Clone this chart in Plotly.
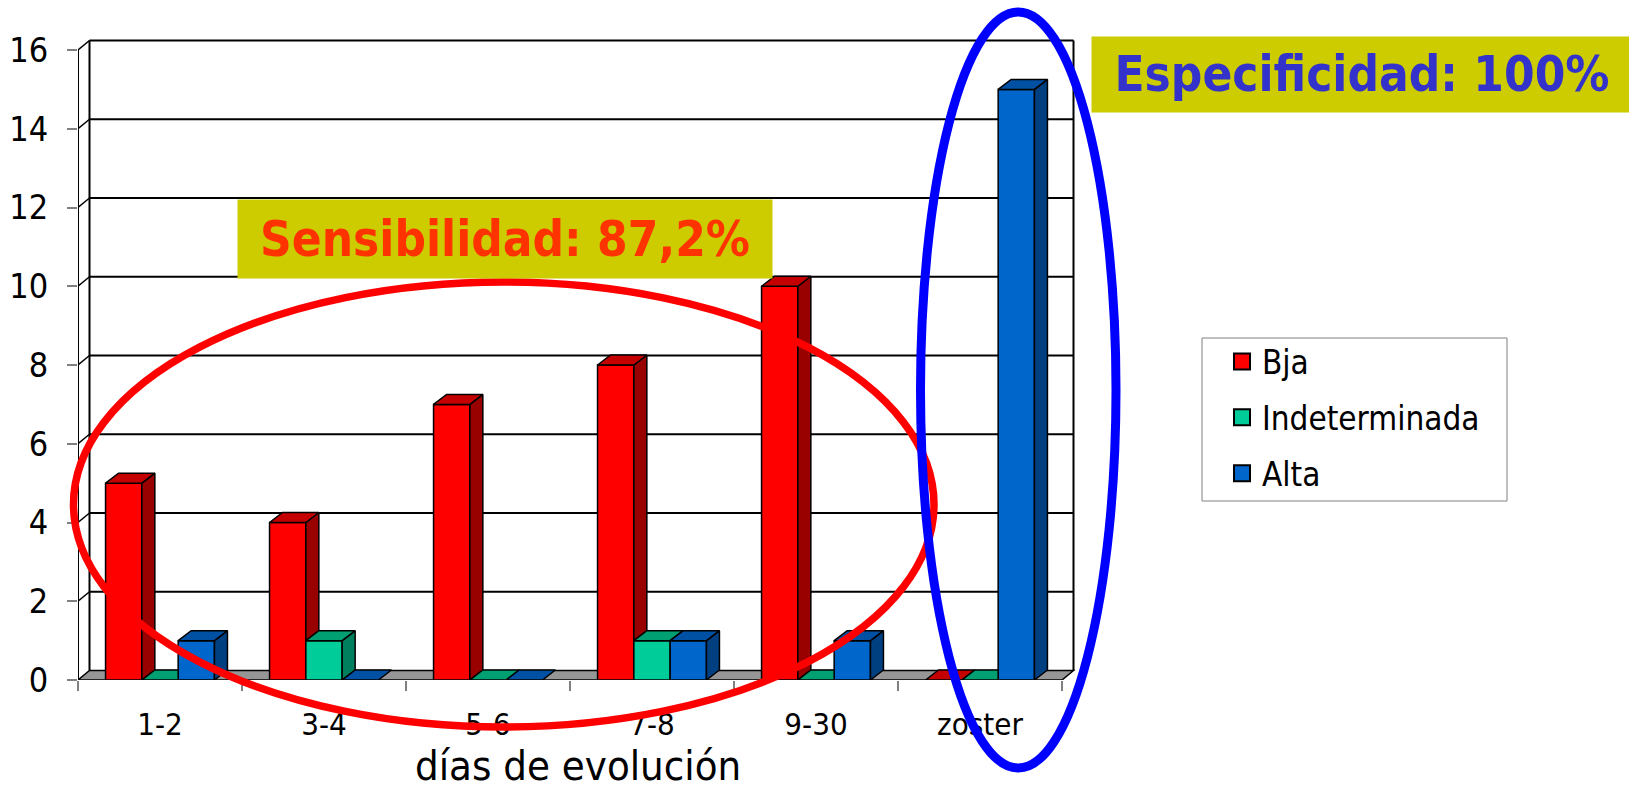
import plotly.graph_objects as go

# ---- data -------------------------------------------------------------
categories = ["1-2", "3-4", "5-6", "7-8", "9-30", "zoster"]
bja = [5, 4, 7, 8, 10, 0]
indeterminada = [0, 1, 0, 1, 0, 0]
alta = [1, 0, 0, 1, 1, 15]
series_names = ["Bja", "Indeterminada", "Alta"]
y_ticks = [0, 2, 4, 6, 8, 10, 12, 14, 16]

series = [bja, indeterminada, alta]

# ---- styling ----------------------------------------------------------
FRONT = ["#FF0000", "#00CC99", "#0066CC"]
SIDE = ["#990000", "#007F5F", "#003F80"]
TOP = ["#C40000", "#00A072", "#0050A3"]
FONT = "DejaVu Sans Condensed"

W, H = 1629, 791
PX_X = 164.0       # pixels per category
PX_Y = 39.375      # pixels per unit on the value axis
X0_PX = 78.0       # pixel column of the front-left corner
Y0_PX = 680.0      # pixel row of the value 0
X_RANGE = [-0.5, 5.7]
Y_RANGE = [0, 16.6]


def px(x):
    return x / W


def py(y):
    return 1 - y / H


x_dom = [px(X0_PX), px(X0_PX + (X_RANGE[1] - X_RANGE[0]) * PX_X)]
y_dom = [py(Y0_PX), py(Y0_PX - Y_RANGE[1] * PX_Y)]

# depth of the walls and of the bars, in data units
WALL_DX, WALL_DY = 11.5 / PX_X, 9.5 / PX_Y
BAR_DX, BAR_DY = 13.0 / PX_X, 10.0 / PX_Y

BARGAP = 0.336
BW = (1 - BARGAP) / 3
x_pos = list(range(len(categories)))

fig = go.Figure()

# front faces of the bars
for i, vals in enumerate(series):
    fig.add_trace(go.Bar(
        x=x_pos, y=vals, width=BW, offset=-(1 - BARGAP) / 2 + i * BW,
        marker=dict(color=FRONT[i], line=dict(color="black", width=1.5)),
        name=series_names[i], showlegend=False, hoverinfo="skip",
    ))

# side and top faces, trimmed where the neighbouring bar hides them
for i, vals in enumerate(series):
    tx, ty, sx, sy = [], [], [], []
    for c in x_pos:
        v = vals[c]
        left = c - (1 - BARGAP) / 2 + i * BW
        right = left + BW
        nxt = series[i + 1][c] if i < len(series) - 1 else None

        n = v if nxt is None else min(max(nxt, v), v + BAR_DY)
        tx += [left, right, right, right + (v + BAR_DY - n) / BAR_DY * BAR_DX,
               left + BAR_DX, left, None]
        ty += [v, v, n, v + BAR_DY, v + BAR_DY, v, None]

        lo = 0 if nxt is None else max(nxt, 0)
        if lo < v:
            sx += [right, right, right + BAR_DX, right + BAR_DX, right, None]
            sy += [lo, v, v + BAR_DY, lo + BAR_DY, lo, None]

    if sx:
        fig.add_trace(go.Scatter(
            x=sx, y=sy, mode="lines", fill="toself", fillcolor=SIDE[i],
            line=dict(color="black", width=1.5), showlegend=False,
            hoverinfo="skip"))
    fig.add_trace(go.Scatter(
        x=tx, y=ty, mode="lines", fill="toself", fillcolor=TOP[i],
        line=dict(color="black", width=1.5), showlegend=False,
        hoverinfo="skip"))

# legend entries
for i, name in enumerate(series_names):
    fig.add_trace(go.Scatter(
        x=[None], y=[None], mode="markers", name=name, legendgroup=name,
        marker=dict(symbol="square", size=17, color=FRONT[i],
                    line=dict(color="black", width=2)),
    ))

# ---- walls, floor and grid ---------------------------------------------
x_lo, x_hi = -0.5, len(categories) - 0.5
top = y_ticks[-1]
shapes = []
floor_path = (f"M{x_lo},0 L{x_hi},0 L{x_hi + WALL_DX},{WALL_DY} "
              f"L{x_lo + WALL_DX},{WALL_DY} Z")
shapes.append(dict(type="path", path=floor_path, xref="x", yref="y",
                   fillcolor="#969696", line=dict(color="black", width=1.5),
                   layer="below"))
for v in y_ticks[1:]:
    shapes.append(dict(type="line", xref="x", yref="y", layer="below",
                       x0=x_lo + WALL_DX, x1=x_hi + WALL_DX,
                       y0=v + WALL_DY, y1=v + WALL_DY,
                       line=dict(color="black", width=2)))
    shapes.append(dict(type="line", xref="x", yref="y", layer="below",
                       x0=x_lo, x1=x_lo + WALL_DX, y0=v, y1=v + WALL_DY,
                       line=dict(color="black", width=1.5)))
for xv in (x_lo + WALL_DX, x_hi + WALL_DX):
    shapes.append(dict(type="line", xref="x", yref="y", layer="below",
                       x0=xv, x1=xv, y0=WALL_DY, y1=top + WALL_DY,
                       line=dict(color="black", width=2)))
shapes.append(dict(type="line", xref="x", yref="y", layer="below",
                   x0=x_lo, x1=x_lo, y0=0, y1=top,
                   line=dict(color="black", width=2)))

# highlight ellipses
shapes.append(dict(type="circle", xref="paper", yref="paper",
                   x0=px(73.5), x1=px(934), y0=py(727), y1=py(282),
                   line=dict(color="#FF0000", width=7.5)))
shapes.append(dict(type="circle", xref="paper", yref="paper",
                   x0=px(920.5), x1=px(1116), y0=py(768), y1=py(12),
                   line=dict(color="#0000FF", width=9)))

# legend frame
shapes.append(dict(type="rect", xref="paper", yref="paper",
                   x0=px(1202), x1=px(1507), y0=py(501), y1=py(338),
                   line=dict(color="#808080", width=1)))

annotations = [
    dict(text="días de evolución", xref="paper", yref="paper",
         x=px(578), y=py(791), xanchor="center", yanchor="bottom",
         showarrow=False, borderpad=0,
         font=dict(family=FONT, size=41.5, color="black")),
    dict(text="Sensibilidad: 87,2%", xref="paper", yref="paper",
         x=px(237), y=py(199), xanchor="left", yanchor="top",
         width=534, height=78, borderpad=0, bgcolor="#CCCC00",
         showarrow=False, valign="middle",
         font=dict(family=FONT, size=49, color="#FF3300", weight="bold")),
    dict(text="Especificidad: 100%", xref="paper", yref="paper",
         x=px(1091), y=py(36), xanchor="left", yanchor="top",
         width=540, height=75, borderpad=0, bgcolor="#CCCC00",
         showarrow=False, valign="middle",
         font=dict(family=FONT, size=49, color="#3333CC", weight="bold")),
]

fig.update_layout(
    width=W, height=H, autosize=False,
    margin=dict(l=0, r=0, t=0, b=0, pad=0, autoexpand=False),
    paper_bgcolor="white", plot_bgcolor="rgba(0,0,0,0)",
    barmode="overlay",
    font=dict(family=FONT, color="black"),
    xaxis=dict(
        domain=x_dom, range=X_RANGE, type="linear", automargin=False,
        tickmode="array", tickvals=x_pos, ticktext=categories,
        ticks="", showline=False, showgrid=False, zeroline=False,
        tickfont=dict(size=31), ticklabelstandoff=23,
        minor=dict(tickmode="array",
                   tickvals=[x_lo + k for k in range(len(categories) + 1)],
                   ticks="outside", ticklen=10, tickwidth=1.5,
                   tickcolor="#808080", showgrid=False),
    ),
    yaxis=dict(
        domain=y_dom, range=Y_RANGE, automargin=False,
        tickmode="array", tickvals=y_ticks,
        ticks="outside", ticklen=10, tickwidth=1.5, tickcolor="#808080",
        showline=False, showgrid=False, zeroline=False,
        tickfont=dict(size=34), ticklabelstandoff=12,
    ),
    legend=dict(x=px(1222), y=py(333.5), xanchor="left", yanchor="top",
                bgcolor="rgba(0,0,0,0)", borderwidth=0,
                font=dict(family=FONT, size=33), tracegroupgap=10),
    shapes=shapes,
    annotations=annotations,
)

fig.write_html("out.html")
